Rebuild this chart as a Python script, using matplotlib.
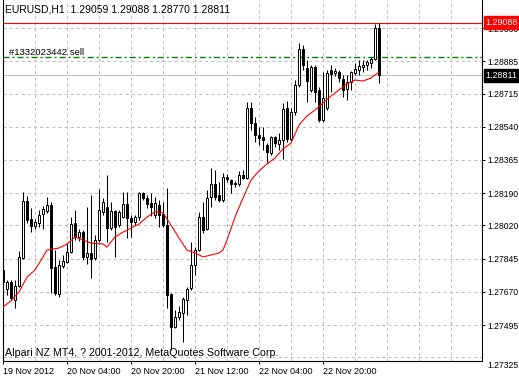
import matplotlib
matplotlib.use("Agg")
import matplotlib.pyplot as plt
import matplotlib.transforms as mtransforms
import numpy as np

plt.rcParams['font.family'] = ['Liberation Sans', 'DejaVu Sans']
plt.rcParams['lines.scale_dashes'] = False

# EURUSD H1 bars, 19 Nov 12:00 .. 23 Nov 10:00
opens = [1.27785, 1.27685, 1.27722, 1.27627, 1.27701, 1.27848, 1.28149, 1.28054, 1.28017, 1.28033,
         1.28080, 1.28096, 1.28128, 1.27801, 1.27659, 1.27806, 1.27827, 1.27880, 1.28033, 1.27959,
         1.27985, 1.27854, 1.27875, 1.27848, 1.27943, 1.28091, 1.28117, 1.28006, 1.28096, 1.28022,
         1.28064, 1.28133, 1.28059, 1.28038, 1.28064, 1.28191, 1.28164, 1.28138, 1.28075, 1.28128,
         1.28080, 1.28022, 1.27659, 1.27485, 1.27537, 1.27558, 1.27627, 1.27690, 1.27811, 1.27890,
         1.28064, 1.28001, 1.28170, 1.28238, 1.28180, 1.28154, 1.28275, 1.28259, 1.28238, 1.28238,
         1.28286, 1.28270, 1.28639, 1.28560, 1.28497, 1.28486, 1.28444, 1.28402, 1.28486, 1.28449,
         1.28470, 1.28639, 1.28475, 1.28618, 1.28760, 1.28950, 1.28850, 1.28734, 1.28855, 1.28734,
         1.28576, 1.28639, 1.28839, 1.28823, 1.28829, 1.28792, 1.28739, 1.28776, 1.28823, 1.28839,
         1.28855, 1.28865, 1.28876, 1.28897, 1.29059]
highs = [1.27806, 1.27732, 1.27732, 1.27732, 1.27885, 1.28196, 1.28175, 1.28112, 1.28054, 1.28101,
         1.28122, 1.28170, 1.28143, 1.27890, 1.27838, 1.27864, 1.27927, 1.28064, 1.28101, 1.28001,
         1.27996, 1.28117, 1.28180, 1.27970, 1.28212, 1.28164, 1.28286, 1.28143, 1.28101, 1.28101,
         1.28196, 1.28196, 1.28075, 1.28075, 1.28196, 1.28196, 1.28180, 1.28191, 1.28170, 1.28154,
         1.28143, 1.28217, 1.27664, 1.27574, 1.27595, 1.27643, 1.27695, 1.27933, 1.27906, 1.28091,
         1.28143, 1.28207, 1.28323, 1.28312, 1.28249, 1.28296, 1.28291, 1.28265, 1.28254, 1.28307,
         1.28312, 1.28671, 1.28671, 1.28591, 1.28539, 1.28539, 1.28454, 1.28491, 1.28491, 1.28507,
         1.28665, 1.28676, 1.28639, 1.28786, 1.28981, 1.28971, 1.28892, 1.28865, 1.28865, 1.28750,
         1.28829, 1.28839, 1.28865, 1.28850, 1.28839, 1.28813, 1.28813, 1.28834, 1.28876, 1.28892,
         1.28892, 1.28892, 1.28908, 1.29080, 1.29088]
lows = [1.27669, 1.27653, 1.27627, 1.27585, 1.27695, 1.27843, 1.28033, 1.27985, 1.28001, 1.28012,
        1.28001, 1.28086, 1.27664, 1.27653, 1.27643, 1.27796, 1.27822, 1.27875, 1.27943, 1.27938,
        1.27838, 1.27817, 1.27743, 1.27838, 1.27933, 1.28075, 1.27933, 1.27996, 1.27854, 1.28012,
        1.28059, 1.27954, 1.27959, 1.28022, 1.28049, 1.28154, 1.28112, 1.28070, 1.28059, 1.28012,
        1.28012, 1.27585, 1.27364, 1.27479, 1.27522, 1.27406, 1.27548, 1.27680, 1.27759, 1.27885,
        1.27980, 1.27996, 1.28117, 1.28154, 1.28143, 1.28143, 1.28249, 1.28191, 1.28223, 1.28228,
        1.28265, 1.28265, 1.28523, 1.28460, 1.28444, 1.28418, 1.28349, 1.28391, 1.28433, 1.28418,
        1.28370, 1.28460, 1.28465, 1.28602, 1.28750, 1.28839, 1.28671, 1.28723, 1.28671, 1.28565,
        1.28565, 1.28628, 1.28723, 1.28808, 1.28776, 1.28697, 1.28681, 1.28734, 1.28813, 1.28813,
        1.28829, 1.28839, 1.28850, 1.28892, 1.28770]
closes = [1.27722, 1.27722, 1.27637, 1.27701, 1.27854, 1.28149, 1.28049, 1.28017, 1.28038, 1.28075,
          1.28107, 1.28128, 1.27796, 1.27664, 1.27811, 1.27832, 1.27880, 1.28027, 1.27959, 1.27985,
          1.27854, 1.27875, 1.27843, 1.27943, 1.28101, 1.28143, 1.28006, 1.28096, 1.28012, 1.28091,
          1.28133, 1.28059, 1.28038, 1.28064, 1.28191, 1.28164, 1.28133, 1.28117, 1.28138, 1.28075,
          1.28022, 1.27653, 1.27485, 1.27537, 1.27564, 1.27632, 1.27685, 1.27811, 1.27890, 1.28064,
          1.27996, 1.28164, 1.28238, 1.28170, 1.28154, 1.28275, 1.28265, 1.28238, 1.28244, 1.28286,
          1.28270, 1.28639, 1.28560, 1.28497, 1.28481, 1.28470, 1.28407, 1.28486, 1.28454, 1.28470,
          1.28634, 1.28475, 1.28618, 1.28760, 1.28950, 1.28865, 1.28781, 1.28855, 1.28723, 1.28576,
          1.28692, 1.28823, 1.28818, 1.28834, 1.28797, 1.28734, 1.28776, 1.28829, 1.28844, 1.28860,
          1.28865, 1.28881, 1.28897, 1.29060, 1.28811]

# moving average, read at selected bars
ma_bars = [0, 2, 4, 6, 8, 10, 11, 14, 16, 18, 20, 22, 25, 26, 28, 30, 32, 34, 36, 38, 39, 40,
           42, 44, 46, 48, 50, 52, 54, 55, 56, 58, 60, 62, 64, 66, 68, 70, 72, 74, 76, 78, 80,
           82, 84, 86, 88, 90, 92, 93, 94]
ma_vals = [1.27590, 1.27623, 1.27669, 1.27748, 1.27785, 1.27854, 1.27890, 1.27901, 1.27922, 1.27959,
           1.27943, 1.27927, 1.27922, 1.27906, 1.27959, 1.27985, 1.28006, 1.28027, 1.28064, 1.28091,
           1.28091, 1.28086, 1.28022, 1.27954, 1.27890, 1.27875, 1.27854, 1.27864, 1.27875, 1.27890,
           1.27943, 1.28064, 1.28164, 1.28259, 1.28307, 1.28344, 1.28375, 1.28423, 1.28454, 1.28549,
           1.28597, 1.28628, 1.28665, 1.28702, 1.28734, 1.28765, 1.28786, 1.28781, 1.28797, 1.28813,
           1.28829]

price_ticks = [1.29060, 1.28885, 1.28715, 1.28540, 1.28365, 1.28190, 1.28020, 1.27845, 1.27670, 1.27495]
bottom_tick = 1.27325
time_ticks = [0, 16, 32, 48, 64, 80]
time_labels = ['19 Nov 2012', '20 Nov 04:00', '20 Nov 20:00', '21 Nov 12:00', '22 Nov 04:00', '22 Nov 20:00']

sl_price = 1.29088
order_price = 1.28909
bid_price = 1.28811

fig = plt.figure(figsize=(5.19, 3.78), dpi=100)
ax = fig.add_axes([2.5 / 519, 17 / 378, 479 / 519, 361 / 378])
ax.set_xlim(-0.125, 119.625)
ax.set_ylim(1.273055, 1.29208)

grid_kw = dict(color='#c0c0c0', lw=0.75, linestyle=(0, (2.2, 2.2)), zorder=0.5)
for v in np.arange(8, 120, 8):
    ax.axvline(v, **grid_kw)
for p in price_ticks + [bottom_tick]:
    ax.axhline(p, **grid_kw)

ax.axhline(sl_price, color='red', lw=0.8, zorder=1.5)
ax.axhline(bid_price, color='#c0c0c0', lw=0.8, zorder=1.5)
ax.axhline(order_price, color='#008000', lw=1.0, linestyle=(0, (4.3, 2.2, 1.4, 2.2)), zorder=1.5)

o = np.array(opens)
c = np.array(closes)
x = np.arange(len(o))
bull = c >= o
ax.vlines(x, lows, highs, color='black', lw=0.75, zorder=2)
ax.bar(x, np.abs(c - o), bottom=np.minimum(o, c), width=0.5,
       color=np.where(bull, 'white', 'black'), edgecolor='black', linewidth=0.7, zorder=3)

ax.plot(ma_bars, ma_vals, color='red', lw=0.8, zorder=4)

for s in ['left', 'right', 'bottom']:
    ax.spines[s].set_linewidth(0.8)
ax.spines['top'].set_visible(False)

ax.yaxis.tick_right()
ax.set_yticks(price_ticks)
ax.set_yticklabels([f'{p:.5f}' for p in price_ticks])
ax.tick_params(axis='y', length=2.5, width=0.7, pad=2, labelsize=6.2)
ax.set_xticks(time_ticks)
ax.set_xticklabels(time_labels)
ax.tick_params(axis='x', length=2.5, width=0.7, pad=1.5, labelsize=6.5)
for lbl in ax.get_xticklabels():
    lbl.set_ha('left')

side = mtransforms.blended_transform_factory(ax.transAxes, ax.transData)
ax.annotate(f'{bottom_tick:.5f}', xy=(1, bottom_tick), xycoords=side, xytext=(6, -8),
            textcoords='offset pixels', va='center', ha='left', fontsize=6.2, annotation_clip=False)
ax.annotate(f'{sl_price:.5f}', xy=(1, sl_price), xycoords=side, xytext=(4, 0),
            textcoords='offset pixels', va='center', ha='left', fontsize=6.4, color='white',
            bbox=dict(boxstyle='square,pad=0.2', fc='red', ec='red'), annotation_clip=False, zorder=10)
ax.annotate(f'{bid_price:.5f}', xy=(1, bid_price), xycoords=side, xytext=(4, 0),
            textcoords='offset pixels', va='center', ha='left', fontsize=6.4, color='white',
            bbox=dict(boxstyle='square,pad=0.2', fc='black', ec='black'), annotation_clip=False, zorder=10)

fig.text(5 / 519, 1 - 10 / 378, 'EURUSD,H1  1.29059 1.29088 1.28770 1.28811', fontsize=7.5, va='center')
ax.text(1.5, order_price, '#1332023442 sell', fontsize=6.8, va='bottom', ha='left')
fig.text(5 / 519, 1 - 353 / 378, 'Alpari NZ MT4, ? 2001-2012, MetaQuotes Software Corp.', fontsize=7.7, va='center')

fig.savefig('out.png', dpi=100)
